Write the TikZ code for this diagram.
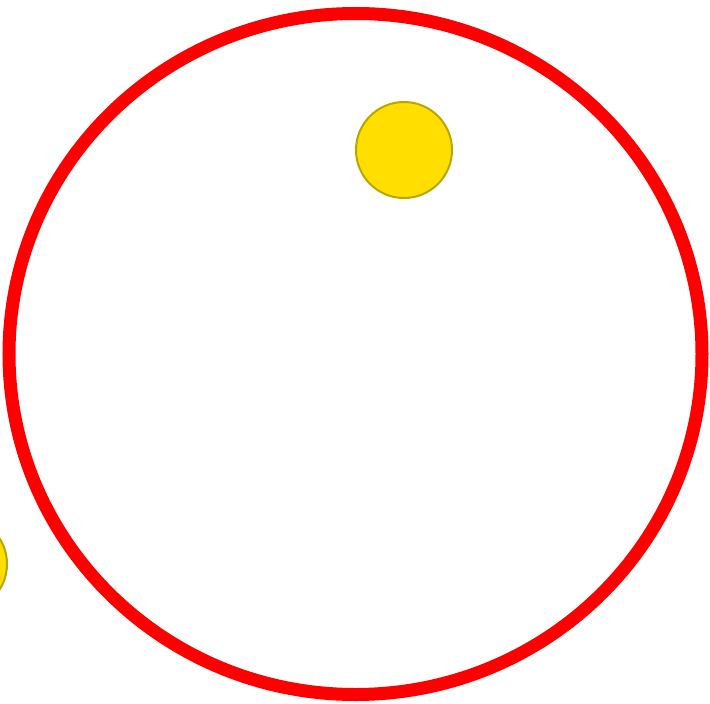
\documentclass[tikz,border=0pt]{standalone}
\begin{document}
\begin{tikzpicture}[x=1pt,y=-1pt,
  ring/.style={draw={rgb,255:red,255;green,0;blue,0}, line width=13pt},
  sun/.style={circle, fill={rgb,255:red,255;green,222;blue,0}, draw={rgb,255:red,187;green,166;blue,0}, line width=2pt, minimum size=96pt, inner sep=0pt}]
\useasboundingbox (0,0) rectangle (710,704);
\draw[ring] (355.5,354) ellipse [x radius=346.5, y radius=340.5];
\node[sun] (a) at (404,150) {};
\node[sun] (b) at (-41,564) {};
\end{tikzpicture}
\end{document}
